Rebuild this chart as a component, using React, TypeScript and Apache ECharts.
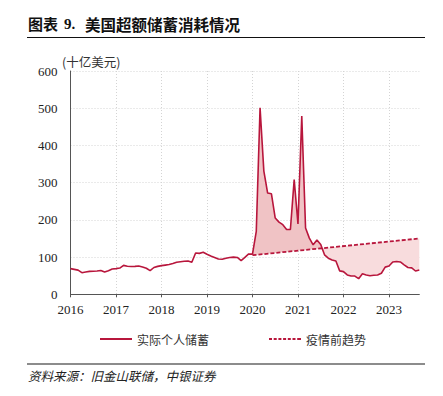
import React, { useEffect, useRef } from "react";
import * as echarts from "echarts";

// Monthly categories Jan 2016 – Sep 2023
const MONTHS: string[] = [];
for (let y = 2016; y <= 2023; y++) {
  for (let m = 1; m <= 12; m++) {
    if (y === 2023 && m > 9) break;
    MONTHS.push(`${y}-${String(m).padStart(2, "0")}`);
  }
}

const ACTUAL_NAME = "实际个人储蓄";
const TREND_NAME = "疫情前趋势";

// 十亿美元, monthly
const ACTUAL_2016 = [69, 67, 65, 58, 60, 61.5, 62, 62.5, 64, 60, 63.5, 68];
const ACTUAL_2017 = [69, 70.5, 77.8, 75.5, 74.5, 75, 76, 73.4, 70, 63.5, 72, 75];
const ACTUAL_2018 = [77, 78.5, 80, 82.5, 86, 87.5, 88.6, 89.5, 86, 111, 110, 112.8];
const ACTUAL_2019 = [107.4, 103, 99, 95, 94, 96.7, 99, 100, 99, 90.4, 99.4, 108.4];
const ACTUAL_2020 = [108, 169, 501, 331, 272, 270, 205, 194, 187, 174, 174, 308];
const ACTUAL_2021 = [189, 479, 178, 151, 133, 146, 134, 106, 97, 92, 89.5, 63];
const ACTUAL_2022 = [61, 52, 49, 49, 42, 55, 52, 50, 51, 52, 56.5, 73];
const ACTUAL_2023 = [76, 87, 88, 87, 79, 72, 71, 62.6, 65.3];
const ACTUAL: number[] = [
  ...ACTUAL_2016, ...ACTUAL_2017, ...ACTUAL_2018, ...ACTUAL_2019,
  ...ACTUAL_2020, ...ACTUAL_2021, ...ACTUAL_2022, ...ACTUAL_2023,
];

// Pre-pandemic trend (straight line) end points
const TREND_MONTHS = ["2020-01", "2023-09"];
const TREND_VALUES = [105, 150];

const Y_MIN = 0;
const Y_MAX = 600;
const Y_STEP = 100;

const LINE_COLOR = "#b8163c";
const FILL_ABOVE = "#f0c3c5";
const FILL_BELOW = "#f8dcdd";
const CJK = "'Noto Sans CJK SC', 'Noto Sans', sans-serif";
const SERIF = "'Liberation Serif', 'DejaVu Serif', serif";

// legend icons (32 x 2 box): solid bar and short dashes
const SOLID_ICON = "path://M0,0H32V2H0Z";
const DOTTED_ICON =
  "path://M0,0h3v2h-3z M4.7,0h3v2h-3z M9.4,0h3v2h-3z M14.1,0h3v2h-3z M18.8,0h3v2h-3z M23.5,0h3v2h-3z M28.2,0h3.8v2h-3.8z";

export default function App() {
  const ref = useRef<HTMLDivElement>(null);

  useEffect(() => {
    if (!ref.current) return;
    const chart = echarts.init(ref.current, null, { renderer: "svg" });

    const trendIdx = TREND_MONTHS.map((m) => MONTHS.indexOf(m));
    const fillStart = trendIdx[0];

    const option: any = {
      animation: false,
      backgroundColor: "#ffffff",
      grid: { left: 70.5, right: 23.7, top: 71, bottom: 101.7, containLabel: false },
      legend: {
        left: 100,
        top: 333,
        padding: 0,
        itemWidth: 32,
        itemHeight: 2,
        itemGap: 60,
        textStyle: { fontFamily: CJK, fontSize: 12, color: "#333" },
        data: [
          { name: ACTUAL_NAME, icon: SOLID_ICON },
          { name: TREND_NAME, icon: DOTTED_ICON },
        ],
      },
      xAxis: {
        type: "category",
        data: MONTHS,
        boundaryGap: false,
        axisLine: { lineStyle: { color: "#555", width: 1 } },
        axisTick: {
          show: true,
          length: 3,
          interval: (i: number) => i % 12 === 0,
          lineStyle: { color: "#555" },
        },
        axisLabel: {
          interval: (i: number) => i % 12 === 0,
          formatter: (v: string) => v.slice(0, 4),
          fontFamily: SERIF,
          fontSize: 13,
          color: "#222",
          margin: 9,
        },
        splitLine: {
          show: true,
          interval: (i: number) => i % 12 === 0,
          lineStyle: { color: "#d4d4d4", type: [1, 2], width: 1 },
        },
      },
      yAxis: {
        type: "value",
        min: Y_MIN,
        max: Y_MAX,
        interval: Y_STEP,
        axisLine: { show: true, lineStyle: { color: "#555", width: 1 } },
        axisTick: { show: false },
        axisLabel: { fontFamily: SERIF, fontSize: 13, color: "#222", margin: 13 },
        splitLine: { show: true, lineStyle: { color: "#d4d4d4", type: [1, 2], width: 1 } },
      },
      series: [
        {
          type: "custom",
          name: "fill",
          silent: true,
          z: 1,
          data: [[fillStart, 0]],
          encode: { x: 0, y: 1 },
          renderItem: (_params: any, api: any) => {
            const pts: number[][] = [];
            for (let i = fillStart; i < ACTUAL.length; i++) {
              pts.push(api.coord([i, ACTUAL[i]]));
            }
            const a = api.coord([trendIdx[0], TREND_VALUES[0]]);
            const b = api.coord([trendIdx[1], TREND_VALUES[1]]);
            const ty = (x: number) => a[1] + ((b[1] - a[1]) * (x - a[0])) / (b[0] - a[0]);
            const sgn = (p: number[]) => Math.sign(ty(p[0]) - p[1]);
            const polys: { s: number; run: number[][] }[] = [];
            let run: number[][] = [pts[0]];
            let s = sgn(pts[0]) || 1;
            for (let i = 1; i < pts.length; i++) {
              const p = pts[i];
              const ps = sgn(p);
              if (ps !== 0 && ps !== s) {
                const p0 = pts[i - 1];
                const d0 = ty(p0[0]) - p0[1];
                const d1 = ty(p[0]) - p[1];
                const t = d0 / (d0 - d1);
                const ix = p0[0] + t * (p[0] - p0[0]);
                const ip = [ix, ty(ix)];
                run.push(ip);
                polys.push({ s, run });
                run = [ip];
                s = ps;
              }
              run.push(p);
            }
            polys.push({ s, run });
            const children = polys.map((pl) => {
              const first = pl.run[0];
              const last = pl.run[pl.run.length - 1];
              const points = [...pl.run, [last[0], ty(last[0])], [first[0], ty(first[0])]];
              return {
                type: "polygon",
                shape: { points },
                style: { fill: pl.s > 0 ? FILL_ABOVE : FILL_BELOW, stroke: "none" },
              };
            });
            return { type: "group", children };
          },
        },
        {
          type: "line",
          name: TREND_NAME,
          z: 3,
          data: TREND_MONTHS.map((m, i) => [MONTHS.indexOf(m), TREND_VALUES[i]]),
          symbol: "none",
          lineStyle: { color: LINE_COLOR, width: 1.8, type: [4, 2] },
          itemStyle: { color: LINE_COLOR },
        },
        {
          type: "line",
          name: ACTUAL_NAME,
          z: 4,
          data: ACTUAL,
          symbol: "none",
          lineStyle: { color: LINE_COLOR, width: 1.6 },
          itemStyle: { color: LINE_COLOR },
        },
      ],
      graphic: [
        {
          type: "text",
          left: 28,
          top: 16,
          style: { text: "图表", font: `bold 15px ${CJK}`, fill: "#111" },
        },
        {
          type: "text",
          left: 64,
          top: 16,
          style: { text: "9.", font: `bold 15px ${SERIF}`, fill: "#111" },
        },
        {
          type: "text",
          left: 85,
          top: 16,
          style: { text: "美国超额储蓄消耗情况", font: `bold 15.5px ${CJK}`, fill: "#111" },
        },
        {
          type: "line",
          shape: { x1: 27, y1: 37.5, x2: 425, y2: 37.5 },
          style: { stroke: "#111", lineWidth: 1.2 },
        },
        {
          type: "text",
          left: 62,
          top: 55,
          style: { text: "(十亿美元)", font: `12.5px ${CJK}`, fill: "#333" },
        },
        {
          type: "line",
          shape: { x1: 27, y1: 364, x2: 425, y2: 364 },
          style: { stroke: "#8c8c8c", lineWidth: 2 },
        },
        {
          type: "text",
          left: 28,
          top: 369,
          style: { text: "资料来源：旧金山联储，中银证券", font: `italic 12.5px ${CJK}`, fill: "#222" },
        },
      ],
    };

    chart.setOption(option);
    return () => chart.dispose();
  }, []);

  return (
    <div
      ref={ref}
      style={{ position: "fixed", left: 0, top: 0, width: 443, height: 396, background: "#fff" }}
    />
  );
}
